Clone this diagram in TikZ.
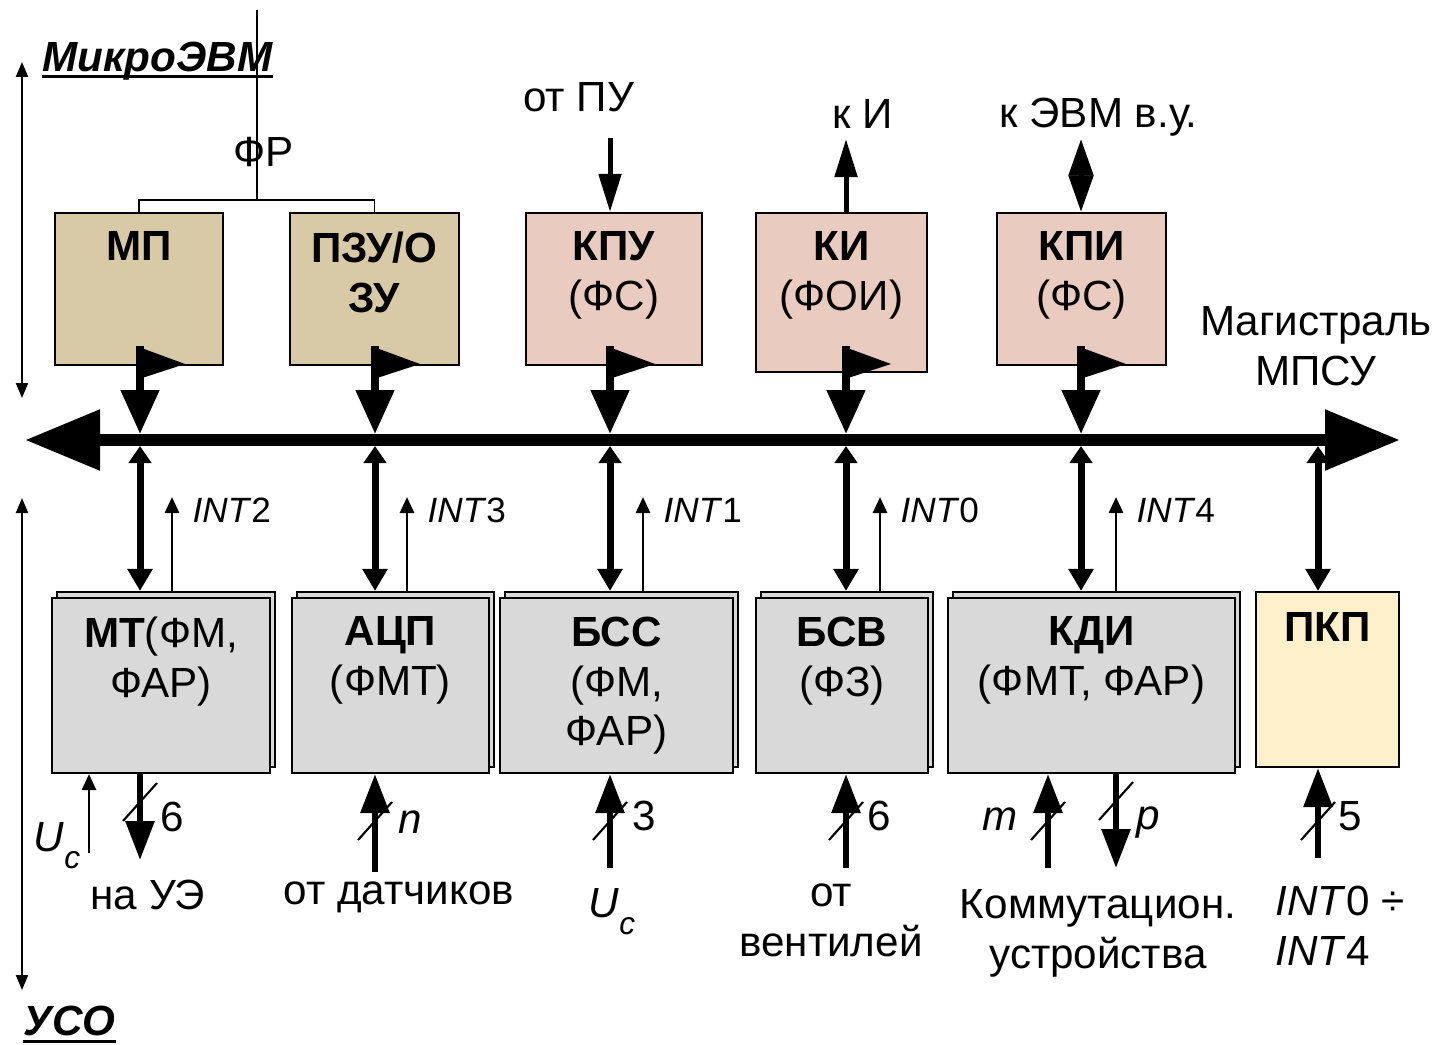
\documentclass[tikz,border=0pt]{standalone}
\usepackage{fontspec}
\setmainfont{Liberation Sans}
\usepackage{xcolor}
\usepackage{tikz}
\usetikzlibrary{arrows.meta,positioning,calc}
\definecolor{tanbox}{HTML}{D8C9A7}
\definecolor{rosebox}{HTML}{EACBC0}
\definecolor{graybox}{HTML}{D9D9D9}
\definecolor{creambox}{HTML}{FFF0CC}
\newcommand{\Uc}{\textit{U}\raisebox{-0.4em}{\fontsize{9pt}{9pt}\selectfont\textit{c}}}
\tikzset{
  bus/.style={{Triangle[length=0.75cm,width=0.58cm]}-{Triangle[length=0.75cm,width=0.58cm]},line width=0.12cm},
  tarr/.style={-{Triangle[length=0.44cm,width=0.37cm]},line width=0.08cm},
  darr/.style={{Triangle[length=0.17cm,width=0.22cm]}-{Triangle[length=0.22cm,width=0.24cm]},line width=0.07cm},
  iarr/.style={-{Triangle[length=0.16cm,width=0.14cm]},line width=0.8pt},
  sarr/.style={-{Triangle[length=0.39cm,width=0.28cm]},line width=0.06cm},
  parr/.style={-{Triangle[length=0.38cm,width=0.22cm]},line width=0.05cm},
  dia/.style={{Triangle[length=0.365cm,width=0.24cm]}-{Triangle[length=0.365cm,width=0.24cm]},line width=0.05cm},
  varr/.style={{Triangle[length=0.15cm,width=0.12cm]}-{Triangle[length=0.15cm,width=0.12cm]},line width=0.6pt},
  wmark/.style={line width=0.6pt},
  box/.style={rectangle,draw,line width=0.6pt,minimum height=1.52cm,inner sep=0pt},
  gbox/.style={rectangle,draw,line width=0.6pt,fill=graybox,minimum height=1.75cm,inner sep=0pt},
  btxt/.style={anchor=north,inner sep=0pt,align=center,font=\fontsize{12pt}{14.2pt}\selectfont},
  txt/.style={inner sep=0pt,align=center,font=\fontsize{12pt}{14.2pt}\selectfont},
  itxt/.style={anchor=west,inner sep=0pt,font=\fontsize{10pt}{12pt}\selectfont},
  ttl/.style={anchor=base west,inner sep=0pt,font=\fontsize{12pt}{14pt}\selectfont\bfseries\itshape},
}

\begin{document}
\begin{tikzpicture}
\useasboundingbox (0,0) rectangle (14.47,10.44);

% microcomputer side
\node[box,fill=tanbox,minimum width=1.68cm] (mp) at (1.39,7.55) {};
\node[box,fill=tanbox,minimum width=1.69cm] (pzu) at (3.745,7.55) {};
\node[box,fill=rosebox,minimum width=1.76cm] (kpu) at (6.14,7.55) {};
\node[box,fill=rosebox,minimum width=1.71cm,minimum height=1.59cm] (ki) at (8.415,7.515) {};
\node[box,fill=rosebox,minimum width=1.69cm] (kpi) at (10.815,7.55) {};
\node[btxt] at ([yshift=-0.19cm]mp.north) {\textbf{МП}};
\node[btxt] at ([yshift=-0.19cm]pzu.north) {\textbf{ПЗУ/О}\\\textbf{ЗУ}};
\node[btxt] at ([yshift=-0.19cm]kpu.north) {\textbf{КПУ}\\(ФС)};
\node[btxt] at ([yshift=-0.19cm]ki.north) {\textbf{КИ}\\(ФОИ)};
\node[btxt] at ([yshift=-0.19cm]kpi.north) {\textbf{КПИ}\\(ФС)};

\node[ttl] (mevm) at (0.42,9.72) {МикроЭВМ};
\draw[line width=0.03cm] ([yshift=-0.045cm]mevm.base west) -- ([yshift=-0.045cm]mevm.base east);
\node[txt] (fr) at (2.64,8.92) {ФР};
\coordinate (frj) at (2.57,8.44);
\coordinate (frt) at (2.57,10.34);
\draw[line width=0.5pt] (mp.north) |- (frj) -| (pzu.north);
\draw[line width=0.4pt] (frj) -- (frt);

\node[txt] (pu) at (5.785,9.47) {от ПУ};
\coordinate (pu-a) at (6.10,9.06);
\draw[parr] (pu-a) -- (pu-a |- kpu.north);
\node[txt] (ind) at (8.63,9.30) {к И};
\coordinate (ind-a) at (8.46,9.05);
\draw[parr] (ind-a |- ki.north) -- (ind-a);
\node[txt] (evm) at (10.985,9.27) {к ЭВМ в.у.};
\coordinate (evm-a) at (10.81,9.05);
\draw[dia] (evm-a) -- (evm-a |- kpi.north);

\node[txt] (mag) at (13.16,6.98) {Магистраль\\МПСУ};

% bus
\coordinate (bl) at (0.25,6.04);
\coordinate (br) at (14.00,6.04);
\draw[bus] (bl) -- (br);

\foreach \n/\x in {mp/1.40,pzu/3.75,kpu/6.10,ki/8.46,kpi/10.81}{
  \coordinate (\n-o) at (\x,6.98);
  \fill (\n-o) ++(-0.04,0) -- ++(0.49,-0.18) -- ++(-0.49,-0.16) -- cycle;
  \draw[tarr,shorten >=0.06cm] (\n-o) -- (\n-o |- bl);
}

% side arrows
\coordinate (up-t) at (0.22,9.82);
\coordinate (up-b) at (0.22,6.46);
\draw[varr] (up-b) -- (up-t);
\coordinate (lo-t) at (0.22,5.46);
\coordinate (lo-b) at (0.22,0.54);
\draw[varr] (lo-t) -- (lo-b);
\node[ttl] (uso) at (0.23,0.09) {УСО};
\draw[line width=0.03cm] ([yshift=-0.065cm]uso.base west) -- ([yshift=-0.065cm]uso.base east);

% interface side
\node[gbox,minimum width=2.18cm] (mt-b) at (1.66,3.645) {};
\node[gbox,minimum width=2.18cm] (mt) at (1.61,3.585) {};
\node[gbox,minimum width=1.97cm] (adc-b) at (3.955,3.645) {};
\node[gbox,minimum width=1.97cm] (adc) at (3.905,3.585) {};
\node[gbox,minimum width=2.33cm] (bss-b) at (6.215,3.645) {};
\node[gbox,minimum width=2.33cm] (bss) at (6.165,3.585) {};
\node[gbox,minimum width=1.72cm] (bsv-b) at (8.47,3.645) {};
\node[gbox,minimum width=1.72cm] (bsv) at (8.42,3.585) {};
\node[gbox,minimum width=2.87cm] (kdi-b) at (10.965,3.645) {};
\node[gbox,minimum width=2.87cm] (kdi) at (10.915,3.585) {};
\node[gbox,fill=creambox,minimum width=1.43cm] (pkp) at (13.275,3.645) {};
\node[btxt] at ([yshift=-0.19cm]mt.north) {\textbf{МТ}(ФМ,\\ФАР)};
\node[btxt] at ([yshift=-0.19cm]adc.north) {\textbf{АЦП}\\(ФМТ)};
\node[btxt] at ([yshift=-0.19cm]bss.north) {\textbf{БСС}\\(ФМ,\\ФАР)};
\node[btxt] at ([yshift=-0.19cm]bsv.north) {\textbf{БСВ}\\(ФЗ)};
\node[btxt] at ([yshift=-0.19cm]kdi.north) {\textbf{КДИ}\\(ФМТ, ФАР)};
\node[btxt] at ([yshift=-0.21cm]pkp.north) {\textbf{ПКП}};

\foreach \n/\x/\xi/\k in {mt/1.40/1.72/2,adc/3.75/4.07/3,bss/6.10/6.43/1,bsv/8.46/8.80/0,kdi/10.81/11.16/4}{
  \coordinate (\n-u) at (\x,5.98);
  \coordinate (\n-i) at (\xi,5.47);
  \draw[darr] (\n-u) -- (\n-u |- \n-b.north);
  \draw[iarr] (\n-i |- \n-b.north) -- (\n-i);
  \node[itxt] at ([xshift=0.2cm,yshift=-0.13cm]\n-i) {\textit{INT}\k};
}
\coordinate (pkp-u) at (13.18,5.98);
\draw[darr] (pkp-u) -- (pkp-u |- pkp.north);

% inputs and outputs
\foreach \n/\x/\yb/\lab/\lx/\ly in {adc/3.75/1.72/\textit{n}/4.10/2.22,bss/6.10/1.76/3/6.44/2.28,bsv/8.46/1.76/6/8.79/2.28,kdi/10.48/1.76/\textit{m}/10.00/2.25,pkp/13.18/1.86/5/13.50/2.28}{
  \coordinate (\n-d) at (\x,\yb);
  \draw[sarr] (\n-d) -- (\n-d |- \n.south);
  \draw[wmark] ({\x-0.17},2.04) -- ++(0.34,0.38);
  \node[txt] at (\lx,\ly) {\lab};
}
\coordinate (ue-a) at (1.40,1.84);
\draw[sarr] (ue-a |- mt.south) -- (ue-a);
\draw[wmark] (1.23,2.23) -- ++(0.34,0.38);
\node[txt] at (1.72,2.27) {6};
\coordinate (p-a) at (11.16,1.76);
\draw[sarr] (p-a |- kdi.south) -- (p-a);
\draw[wmark] (10.99,2.24) -- ++(0.34,0.38);
\node[txt] at (11.48,2.21) {\textit{p}};

\coordinate (uc-a) at (0.89,1.91);
\draw[iarr] (uc-a) -- (uc-a |- mt.south);
\node[txt] (uc1) at (0.57,1.98) {\Uc};
\node[txt] (uc2) at (6.12,1.32) {\Uc};

\node[txt] (ue) at (1.48,1.49) {на УЭ};
\node[txt] (dat) at (3.99,1.465) {от датчиков};
\node[txt] (vent) at (8.31,1.24) {от\\вентилей};
\node[txt] (kom) at (10.98,1.11) {Коммутацион.\\устройства};
\node[txt,align=left,anchor=west] (ints) at (12.75,1.18) {\textit{INT}0 ÷\\\textit{INT}4};
\end{tikzpicture}
\end{document}
